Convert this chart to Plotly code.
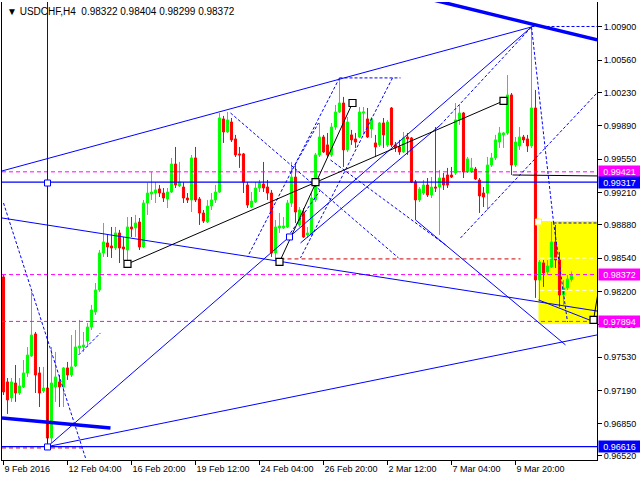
import plotly.graph_objects as go

# ---------------- data ----------------
opens = [0.98348,0.97276,0.97112,0.97265,0.97163,0.97225,0.97368,0.97541,0.97766,0.97368,
         0.97184,0.97214,0.96703,0.97225,0.97276,0.97225,0.97419,0.97347,0.97439,0.97623,
         0.97633,0.97694,0.97837,0.97990,0.98215,0.98593,0.98695,0.98664,0.98644,0.98797,
         0.98654,0.98623,0.98858,0.98848,0.98909,0.98654,0.99103,0.99195,0.99205,0.99246,
         0.99205,0.99144,0.99215,0.99501,0.99277,0.99266,0.99154,0.99134,0.99563,0.99144,
         0.99001,0.98909,0.99072,0.99134,0.99215,0.99961,0.99828,0.99930,0.99757,0.99604,
         0.99604,0.99287,0.99062,0.99113,0.99256,0.99297,0.99266,0.99205,0.98593,0.98848,
         0.98848,0.98858,0.99103,0.99368,0.98879,0.99011,0.98777,0.98777,0.99134,0.99594,
         0.99777,0.99696,0.99594,0.99879,1.00032,1.00124,0.99645,0.99798,0.99757,0.99777,
         1.00022,0.99961,0.99859,0.99716,0.99696,0.99920,0.99696,1.00073,0.99696,0.99675,
         0.99624,0.99777,0.99767,0.99317,0.99134,0.99205,0.99287,0.99185,0.99266,0.99266,
         0.99358,0.99389,0.99389,0.99409,0.99951,1.00022,0.99420,0.99420,0.99450,0.99338,
         0.99205,0.99205,0.99491,0.99563,0.99726,0.99798,0.99818,1.00206,0.99491,0.99685,
         0.99777,0.99757,0.99685,1.00073,0.98317,0.98491,0.98399,0.98450,0.98705,0.98521,
         0.98164,0.98236,0.98322]
highs = [0.98368,0.97316,0.97316,0.97449,0.97316,0.97500,0.97633,0.98195,0.97786,0.97429,
         0.97429,0.97245,0.97633,0.97582,0.97347,0.97429,0.97480,0.97755,0.97807,0.97909,
         0.97786,0.97878,0.98062,0.98286,0.98623,0.98899,0.98777,0.98858,0.98858,0.98828,
         0.98756,0.98960,0.98960,0.98981,0.98950,0.99134,0.99307,0.99419,0.99317,0.99287,
         0.99256,0.99256,0.99563,0.99675,0.99522,0.99317,0.99205,0.99593,0.99675,0.99164,
         0.99032,0.99134,0.99205,0.99287,1.00022,0.99992,1.00032,0.99971,0.99798,0.99675,
         0.99614,0.99317,0.99215,0.99317,0.99338,0.99522,0.99338,0.99236,0.98930,0.99001,
         0.98960,0.99134,0.99522,0.99511,0.99062,0.99052,0.98858,0.99205,0.99614,0.99920,
         0.99798,0.99818,0.99920,1.00104,1.00380,1.00186,0.99981,0.99849,0.99818,1.00083,
         1.00083,1.00073,0.99981,0.99798,0.99930,0.99971,0.99951,1.00083,0.99726,0.99747,
         0.99828,0.99818,0.99777,0.99338,0.99266,0.99338,0.99358,0.99368,0.99879,0.99440,
         0.99409,0.99461,0.99471,1.00124,1.00104,1.00032,0.99573,0.99563,0.99471,0.99358,
         0.99266,0.99573,0.99614,0.99798,0.99879,0.99828,1.00410,1.00226,0.99777,0.99879,
         0.99798,0.99798,1.00900,1.00257,0.98521,0.98521,0.98521,0.98909,0.98879,0.98603,
         0.98317,0.98368,0.98404]
lows = [0.97143,0.96949,0.97072,0.97072,0.97143,0.97214,0.97327,0.97531,0.97163,0.97020,
        0.97163,0.96612,0.96652,0.97072,0.97020,0.97020,0.97296,0.97327,0.97429,0.97572,
        0.97582,0.97633,0.97807,0.97960,0.98195,0.98552,0.98552,0.98542,0.98623,0.98490,
        0.98521,0.98501,0.98756,0.98756,0.98623,0.98644,0.98981,0.99134,0.99103,0.99164,
        0.99113,0.99052,0.99205,0.99256,0.99266,0.99103,0.99103,0.99011,0.99113,0.98879,
        0.98899,0.98899,0.99032,0.99103,0.99205,0.99716,0.99818,0.99726,0.99573,0.99461,
        0.99205,0.99052,0.99052,0.99103,0.99215,0.99215,0.99134,0.98552,0.98521,0.98797,
        0.98838,0.98848,0.99062,0.98899,0.98858,0.98746,0.98746,0.98756,0.99113,0.99573,
        0.99614,0.99573,0.99573,0.99849,1.00022,0.99471,0.99624,0.99696,0.99665,0.99767,
        0.99798,0.99767,0.99767,0.99573,0.99675,0.99665,0.99675,0.99675,0.99624,0.99594,
        0.99614,0.99594,0.99307,0.98930,0.99113,0.99185,0.99164,0.99154,0.99215,0.98777,
        0.99236,0.99256,0.99358,0.99389,0.99900,0.99358,0.99409,0.99409,0.99338,0.99001,
        0.99062,0.99032,0.99471,0.99542,0.99665,0.99665,0.99798,0.99389,0.99471,0.99645,
        0.99716,0.99624,0.99665,0.98134,0.98113,0.98246,0.98368,0.98440,0.98440,0.98042,
        0.98062,0.98215,0.98299]
closes = [0.97174,0.97092,0.97276,0.97163,0.97235,0.97368,0.97551,0.97755,0.97347,0.97163,
          0.97214,0.96703,0.97265,0.97327,0.97225,0.97419,0.97347,0.97429,0.97633,0.97643,
          0.97653,0.97837,0.98011,0.98215,0.98593,0.98705,0.98654,0.98644,0.98797,0.98644,
          0.98634,0.98858,0.98838,0.98899,0.98654,0.99103,0.99205,0.99215,0.99236,0.99205,
          0.99154,0.99215,0.99501,0.99287,0.99317,0.99154,0.99134,0.99563,0.99134,0.99001,
          0.98919,0.99072,0.99134,0.99215,0.99971,0.99828,0.99951,0.99747,0.99594,0.99594,
          0.99317,0.99083,0.99123,0.99256,0.99307,0.99256,0.99205,0.98593,0.98858,0.98868,
          0.98868,0.99103,0.99368,0.99011,0.99032,0.98756,0.98797,0.99154,0.99594,0.99777,
          0.99624,0.99594,0.99879,1.00032,1.00124,0.99645,0.99930,0.99747,0.99726,1.00032,
          1.00032,0.99777,0.99961,0.99675,0.99920,0.99798,0.99930,0.99696,0.99665,0.99624,
          0.99767,0.99757,0.99317,0.99134,0.99246,0.99287,0.99185,0.99266,0.99256,0.99358,
          0.99287,0.99287,0.99368,0.99951,1.00022,0.99420,0.99553,0.99461,0.99348,0.99175,
          0.99164,0.99491,0.99563,0.99747,0.99818,0.99818,1.00206,0.99491,0.99726,0.99777,
          0.99747,0.99685,1.00073,0.98317,0.98501,0.98389,0.98460,0.98705,0.98521,0.98164,
          0.98236,0.98327,0.98372]
bars = list(range(len(opens)))

xtick_bars = [0, 16, 32, 48, 64, 80, 96, 112, 128]
xtick_labels = ["9 Feb 2016", "12 Feb 04:00", "16 Feb 20:00", "19 Feb 12:00", "24 Feb 04:00",
                "26 Feb 20:00", "2 Mar 12:00", "7 Mar 04:00", "9 Mar 20:00"]
ytick_values = [1.00900, 1.00560, 1.00230, 0.99890, 0.99550, 0.99210, 0.98880,
                0.98540, 0.98200, 0.97860, 0.97530, 0.97190, 0.96850, 0.96520]

magenta_levels = [0.99421, 0.98372, 0.97894]
blue_levels = [0.99317, 0.96616]
price_labels = [(0.99421, "#FF00FF"), (0.99317, "#0000FF"), (0.98372, "#FF00FF"),
                (0.97894, "#FF00FF"), (0.96616, "#0000FF")]

title_text = "USDCHF,H4  0.98322 0.98404 0.98299 0.98372"

# trend lines (bar index, price)
blue_thin = [
    [(-0.375, 0.99430), (132, 1.00900)],
    [(11, 0.96616), (132, 1.00900)],
    [(11, 0.96616), (148.4, 0.97756)],
    [(-0.375, 0.98950), (148.4, 0.98000)],
    [(74.25, 0.98695), (109.25, 0.99900)],
    [(103, 0.98930), (140.5, 0.97654)],
    [(133.75, 0.98113), (148.4, 0.97878)],
    [(11, 0.96616), (11, 1.01200)],
]
blue_thick = [
    [(107.0, 1.01180), (148.4, 1.00768)],
    [(-0.375, 0.96908), (26.75, 0.96806)],
]
blue_dashed = [
    [(0, 0.99103), (20.5, 0.96500)],
    [(18.75, 0.97551), (24.25, 0.97776)],
    [(84, 1.00380), (99.25, 1.00380)],
    [(84, 1.00380), (61, 0.98552)],
    [(97.25, 1.00380), (74.25, 0.98542)],
    [(56.75, 1.00022), (98.75, 0.98542)],
    [(81.75, 0.99542), (110.5, 0.98675)],
    [(71.75, 0.99410), (78.75, 0.99920)],
    [(71.75, 0.98797), (79.25, 0.99236)],
    [(109.25, 0.99900), (132, 1.00900)],
    [(114.25, 0.98746), (148.4, 1.00227)],
    [(132, 1.00900), (137.5, 0.98909)],
    [(137.5, 0.98909), (141, 0.97888)],
    [(132, 1.00905), (148.4, 1.00905)],
    [(137.5, 0.98899), (148.4, 0.98899)],
]
red_dashed = [
    [(69.25, 0.98532), (129.25, 0.98532)],
    [(-0.375, 0.96602), (19.75, 0.96602)],
]
white_dashed = [
    [(134.2, 0.98540), (148.4, 0.98540)],
    [(134.2, 0.98210), (148.4, 0.98210)],
]
black_lines = [
    [(31, 0.98481), (125, 1.00145)],
    [(69, 0.98501), (87.25, 1.00124)],
    [(127.25, 0.99389), (148.4, 0.99379)],
    [(147.5, 0.97909), (149.5, 0.98400)],
]
black_squares = [(31, 0.98481), (69, 0.98501), (78, 0.99317), (87.25, 1.00124),
                 (125, 1.00145), (147.5, 0.97909)]
blue_squares = [(11, 0.99307), (11, 0.96612), (71.5, 0.98756)]
box_corner = [(133.75, 0.98909)]
yellow_box = (133.75, 148.4, 0.98919, 0.97868)

X_RANGE = [-0.375, 148.375]
Y_RANGE = [0.96479, 1.01155]
FONT = "Liberation Sans, Arial, sans-serif"

# ---------------- figure ----------------
fig = go.Figure()

fig.add_shape(type="rect", xref="x", yref="y", x0=yellow_box[0], x1=yellow_box[1],
              y0=yellow_box[2], y1=yellow_box[3], fillcolor="#FFFF00",
              line=dict(width=0), layer="below")


def seg_trace(segs, color, width, dash="solid"):
    xs, ys = [], []
    for (a, b) in segs:
        xs += [a[0], b[0], None]
        ys += [a[1], b[1], None]
    return go.Scatter(x=xs, y=ys, mode="lines", line=dict(color=color, width=width, dash=dash),
                      hoverinfo="skip", showlegend=False, cliponaxis=True)


for lv in magenta_levels:
    fig.add_trace(seg_trace([[(X_RANGE[0], lv), (X_RANGE[1], lv)]], "#FF00FF", 1, "4px,3px"))
fig.add_trace(seg_trace(white_dashed, "#FFFFFF", 1, "4px,3px"))
fig.add_trace(seg_trace(red_dashed, "#CC0000", 1, "4px,3px"))

fig.add_trace(go.Candlestick(
    x=bars, open=opens, high=highs, low=lows, close=closes,
    increasing=dict(line=dict(color="#00FF00", width=1), fillcolor="#00FF00"),
    decreasing=dict(line=dict(color="#FF0000", width=1), fillcolor="#FF0000"),
    whiskerwidth=0, hoverinfo="skip", showlegend=False))

for lv in blue_levels:
    fig.add_trace(seg_trace([[(X_RANGE[0], lv), (X_RANGE[1], lv)]], "#0000FF", 1.3))
fig.add_trace(seg_trace(blue_thin, "#0000FF", 1))
fig.add_trace(seg_trace(blue_dashed, "#0000FF", 1, "3px,2px"))
fig.add_trace(seg_trace(blue_thick, "#0000FF", 3.5))
fig.add_trace(seg_trace(black_lines, "#000000", 1))

fig.add_trace(go.Scatter(x=[p[0] for p in black_squares], y=[p[1] for p in black_squares],
                         mode="markers", marker=dict(symbol="square", size=7, color="#FFFFFF",
                                                     line=dict(color="#000000", width=1.2)),
                         hoverinfo="skip", showlegend=False))
fig.add_trace(go.Scatter(x=[p[0] for p in blue_squares], y=[p[1] for p in blue_squares],
                         mode="markers", marker=dict(symbol="square", size=6, color="#FFFFFF",
                                                     line=dict(color="#0000FF", width=1)),
                         hoverinfo="skip", showlegend=False))
fig.add_trace(go.Scatter(x=[p[0] for p in box_corner], y=[p[1] for p in box_corner],
                         mode="markers", marker=dict(symbol="square", size=6, color="#FFFFFF",
                                                     line=dict(color="#FFFF00", width=1)),
                         hoverinfo="skip", showlegend=False))

annotations = [dict(xref="paper", yref="paper", x=0, y=1, xanchor="left", yanchor="top",
                    xshift=3, yshift=-2, showarrow=False,
                    text="\u25BC " + title_text, font=dict(family=FONT, size=10, color="#000000"))]
for val, col in price_labels:
    annotations.append(dict(xref="paper", yref="y", x=1, y=val, xanchor="left", yanchor="middle",
                            xshift=1, showarrow=False, text=f"{val:.5f}", bgcolor=col,
                            width=41, height=11, borderpad=0, align="center",
                            font=dict(family=FONT, size=9, color="#FFFFFF")))

fig.update_layout(
    width=640, height=480,
    margin=dict(l=2, r=43, t=2, b=20, autoexpand=False),
    paper_bgcolor="#FFFFFF", plot_bgcolor="#FFFFFF",
    boxgap=0.25,
    annotations=annotations,
    xaxis=dict(range=X_RANGE, showgrid=False, zeroline=False, showline=True, linecolor="#000000",
               linewidth=1, ticks="outside", ticklen=4, tickcolor="#000000",
               tickvals=xtick_bars, ticktext=xtick_labels, ticklabelposition="outside right",
               tickangle=0, automargin=False,
               tickfont=dict(family=FONT, size=9, color="#000000"),
               rangeslider=dict(visible=False), fixedrange=True),
    yaxis=dict(range=Y_RANGE, side="right", showgrid=False, zeroline=False, showline=True,
               linecolor="#000000", linewidth=1, mirror=True, ticks="outside", ticklen=4,
               tickcolor="#000000", tickvals=ytick_values, automargin=False,
               ticktext=[f"{v:.5f}" for v in ytick_values],
               tickfont=dict(family=FONT, size=9, color="#000000"), fixedrange=True),
)

fig.write_html("out.html", config={"displayModeBar": False},
               post_script="document.body.style.margin='0';document.body.style.overflow='hidden';")
